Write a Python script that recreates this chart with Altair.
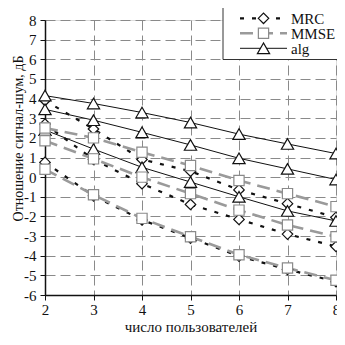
import altair as alt
import pandas as pd

# ---- data ----
x_users = [2, 3, 4, 5, 6, 7, 8]
series_names = ["MRC", "MMSE", "alg"]

mrc_1 = [3.9, 2.45, 0.9, 0.3, -0.65, -1.35, -2.05]
mrc_2 = [2.7, 0.9, -0.33, -1.39, -2.15, -2.9, -3.53]
mrc_3 = [0.75, -0.95, -2.18, -3.1, -4.02, -4.7, -5.32]

mmse_1 = [2.5, 2.0, 1.27, 0.59, -0.17, -0.84, -1.5]
mmse_2 = [1.85, 0.93, 0.0, -0.84, -1.68, -2.44, -3.03]
mmse_3 = [0.4, -0.9, -2.1, -3.03, -3.95, -4.63, -5.25]

alg_1 = [4.15, 3.75, 3.29, 2.78, 2.19, 1.69, 1.2]
alg_2 = [3.45, 2.9, 2.28, 1.64, 0.96, 0.42, -0.12]
alg_3 = [2.4, 1.43, 0.5, -0.25, -1.0, -1.72, -2.23]

y_ticks = list(range(-6, 9))

curves = {
    "MRC": [mrc_1, mrc_2, mrc_3],
    "MMSE": [mmse_1, mmse_2, mmse_3],
    "alg": [alg_1, alg_2, alg_3],
}
rows = []
for name in series_names:
    for ci, vals in enumerate(curves[name]):
        for xv, yv in zip(x_users, vals):
            rows.append({"series": name, "curve": f"{name}{ci + 1}", "users": xv, "snr": yv})
df = pd.DataFrame(rows)

# ---- styles ----
FONT = "Liberation Serif"
INK = "#111111"
line_style = {
    "MRC": dict(color=INK, strokeWidth=2.2, strokeDash=[4, 8]),
    "MMSE": dict(color="#9a9a9a", strokeWidth=2.6, strokeDash=[13, 7]),
    "alg": dict(color=INK, strokeWidth=1.0),
}
point_style = {
    "MRC": dict(shape="diamond", size=110, stroke=INK),
    "MMSE": dict(shape="square", size=105, stroke="#8a8a8a"),
    "alg": dict(shape="triangle-up", size=150, stroke=INK),
}
point_order = ["MRC", "alg", "MMSE"]

axis_common = dict(
    grid=True, gridColor="#8a8a8a", gridDash=[10, 5], gridWidth=1,
    domainColor=INK, domainWidth=1.5, tickColor=INK, tickSize=5, tickWidth=1,
    labelFont=FONT, labelFontSize=15, labelColor=INK, labelFlush=False, labelOverlap=False,
    titleFont=FONT, titleFontWeight="normal", titleColor=INK,
)

x_enc = alt.X(
    "users:Q",
    scale=alt.Scale(domain=[2, 8], nice=False, zero=False),
    axis=alt.Axis(values=x_users, title="число пользователей", labelPadding=2,
                  titleFontSize=15, titleY=36, titleBaseline="alphabetic",
                  labelExpr="'' + datum.value", **axis_common),
)
y_enc = alt.Y(
    "snr:Q",
    scale=alt.Scale(domain=[-6, 8], nice=False, zero=False),
    axis=alt.Axis(values=y_ticks, title="Отношение сигнал-шум, дБ", labelPadding=4,
                  titleFontSize=14, titleAngle=270, titleX=-23, titleY=118,
                  titleAlign="center", titleBaseline="alphabetic",
                  labelExpr="'' + datum.value", **axis_common),
)

base = alt.Chart(df)
layers = []
for name in series_names:
    layers.append(
        base.transform_filter(alt.datum.series == name)
        .mark_line(**line_style[name])
        .encode(x=x_enc, y=y_enc, detail="curve:N", order="users:Q")
    )
for name in point_order:
    ps = point_style[name]
    layers.append(
        base.transform_filter(alt.datum.series == name)
        .mark_point(shape=ps["shape"], size=ps["size"], stroke=ps["stroke"],
                    fill="white", filled=False, fillOpacity=1, strokeWidth=1.2, opacity=1)
        .encode(x=x_enc, y=y_enc)
    )

# ---- legend (drawn by hand, positions in pixels) ----
one = alt.Data(values=[{"k": 1}])
layers.append(
    alt.Chart(one).mark_rect(fill="white", stroke="#333333", strokeWidth=1)
    .encode(x=alt.value(178), x2=alt.value(330), y=alt.value(-12.5), y2=alt.value(39.5))
)
row_y = [-1.7, 13.3, 28.3]
for name, yy in zip(series_names, row_y):
    ls = dict(line_style[name])
    ps = point_style[name]
    layers.append(
        alt.Chart(one).mark_rule(**ls)
        .encode(x=alt.value(195), x2=alt.value(242), y=alt.value(yy))
    )
    layers.append(
        alt.Chart(one).mark_point(shape=ps["shape"], size=ps["size"], stroke=ps["stroke"],
                                  fill="white", filled=False, fillOpacity=1, strokeWidth=1.2, opacity=1)
        .encode(x=alt.value(218.5), y=alt.value(yy))
    )
    layers.append(
        alt.Chart(one).mark_text(text=name, font=FONT, fontSize=15, color=INK,
                                 align="left", baseline="middle")
        .encode(x=alt.value(246), y=alt.value(yy + 0.5))
    )

chart = (
    alt.layer(*layers)
    .properties(width=291, height=275, autosize=alt.AutoSizeParams(type="none"),
                padding={"left": 37, "top": 12, "right": 1, "bottom": 38},
                background="white")
    .configure_view(stroke=INK, strokeWidth=1.2)
    .configure(font=FONT)
)

chart.save("out.html", embed_options={"renderer": "svg", "actions": False})
